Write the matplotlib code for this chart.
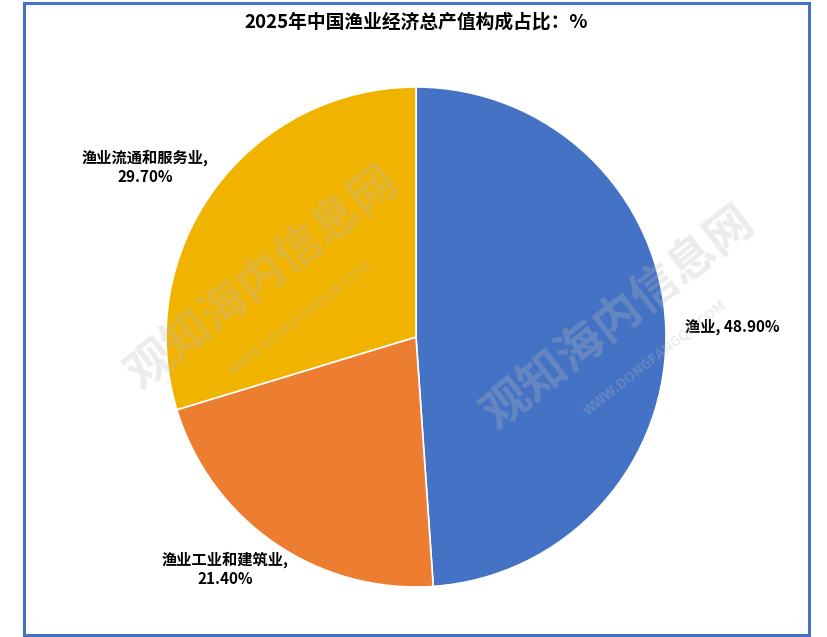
import matplotlib.pyplot as plt
from matplotlib.patches import Rectangle

plt.rcParams['font.family'] = ['Noto Sans CJK SC', 'DejaVu Sans']

# data
categories = ['渔业', '渔业工业和建筑业', '渔业流通和服务业']
shares = [48.90, 21.40, 29.70]
colors = ['#4472C4', '#ED7D31', '#F0B400']
title = '2025年中国渔业经济总产值构成占比：%'

fig = plt.figure(figsize=(8.28, 6.37), dpi=100)

# blue frame round the chart
fig.patches.append(Rectangle((24/828, 2/637), 785/828, 632/637, transform=fig.transFigure,
                             fill=False, edgecolor='#4472C4', linewidth=2.2))

ax = fig.add_axes([166/828, 50/637, 500/828, 500/637])
wedges, _ = ax.pie(shares, colors=colors, startangle=90, counterclock=False,
                   wedgeprops=dict(edgecolor='white', linewidth=1.2))
ax.set_xlim(-1, 1)
ax.set_ylim(-1, 1)
ax.set_aspect('equal')
ax.axis('off')

# data labels
ax.text(1.076, 0.04, f'{categories[0]}, {shares[0]:.2f}%', ha='left', va='center',
        fontsize=11, fontweight='bold')
ax.text(-0.764, -0.93, f'{categories[1]},\n{shares[1]:.2f}%', ha='center', va='center',
        fontsize=11, fontweight='bold', linespacing=1.25)
ax.text(-1.084, 0.68, f'{categories[2]},\n{shares[2]:.2f}%', ha='center', va='center',
        fontsize=11, fontweight='bold', linespacing=1.25)

fig.text(416/828, 1 - 22/637, title, ha='center', va='center', fontsize=13.5, fontweight='bold')

# faint watermark
wm = dict(color='#BBBBBB', alpha=0.28, ha='center', va='center', fontweight='bold', zorder=5)
fig.text(262/828, 1 - 278/637, '观知海内信息网', rotation=38, fontsize=34, **wm)
fig.text(300/828, 1 - 318/637, 'WWW.DONGFANGQB.COM', rotation=38, fontsize=10, **wm)
fig.text(618/828, 1 - 318/637, '观知海内信息网', rotation=38, fontsize=34, **wm)
fig.text(655/828, 1 - 358/637, 'WWW.DONGFANGQB.COM', rotation=38, fontsize=10, **wm)

fig.savefig('out.png', dpi=100)
